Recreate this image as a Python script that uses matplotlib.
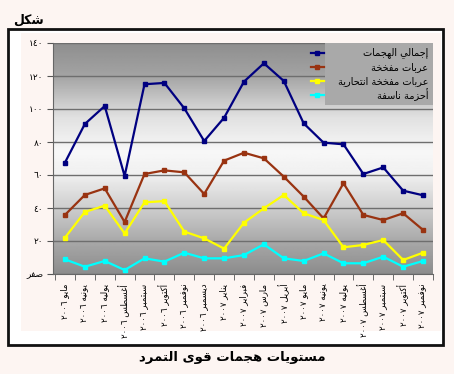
import re
import numpy as np
import matplotlib
import matplotlib.pyplot as plt
from matplotlib.patches import Rectangle
from matplotlib.lines import Line2D

matplotlib.use("Agg")

# Data (May 2006 - Nov 2007)
months = ['مايو', 'يونيه', 'يوليه', 'أغسطس', 'سبتمبر', 'أكتوبر', 'نوفمبر', 'ديسمبر',
          'يناير', 'فبراير', 'مارس', 'أبريل', 'مايو', 'يونيه', 'يوليه', 'أغسطس',
          'سبتمبر', 'أكتوبر', 'نوفمبر']
years = ['٢٠٠٦'] * 8 + ['٢٠٠٧'] * 11

total_attacks = [67.5, 90.9, 101.8, 59.4, 115, 115.8, 100.4, 80.6, 94.7, 116.6,
                 127.7, 117, 91.3, 79.6, 78.6, 60.6, 64.6, 50.5, 47.7]
car_bombs = [35.8, 47.9, 51.9, 31.5, 60.6, 62.8, 61.6, 48.5, 68.7, 73.5,
             70.1, 59, 46.9, 33.7, 55, 35.8, 32.7, 36.8, 26.7]
suicide_car_bombs = [22, 37.6, 41.4, 24.6, 43.4, 44.2, 25.7, 21.6, 15.4, 31.1,
                     39.8, 47.9, 36.8, 32.7, 16.2, 17.6, 20.6, 8.5, 12.9]
suicide_vests = [8.9, 4.4, 7.9, 2.4, 9.5, 7.5, 12.9, 9.5, 9.5, 11.5,
                 18, 9.5, 7.9, 12.5, 6.5, 6.5, 10.5, 4.4, 7.9]

series_names = ['إجمالي الهجمات', 'عربات مفخخة', 'عربات مفخخة انتحارية', 'أحزمة ناسفة']
series_colors = ['#000080', '#993311', '#FFFF00', '#00FFFF']

y_ticks = [0, 20, 40, 60, 80, 100, 120, 140]
y_tick_labels = ['صفر', '٢٠', '٤٠', '٦٠', '٨٠', '١٠٠', '١٢٠', '١٤٠']

# matplotlib has no Arabic shaping: map letters to presentation forms
# and put them in visual (right-to-left) order by hand.
ARABIC_START = dict(zip(
    'آأؤإئابةتثجحخدذرزسشصضطظعغفقكلمنهوىي',
    [0xFE81, 0xFE83, 0xFE85, 0xFE87, 0xFE89, 0xFE8D, 0xFE8F, 0xFE93, 0xFE95,
     0xFE99, 0xFE9D, 0xFEA1, 0xFEA5, 0xFEA9, 0xFEAB, 0xFEAD, 0xFEAF, 0xFEB1,
     0xFEB5, 0xFEB9, 0xFEBD, 0xFEC1, 0xFEC5, 0xFEC9, 0xFECD, 0xFED1, 0xFED5,
     0xFED9, 0xFEDD, 0xFEE1, 0xFEE5, 0xFEE9, 0xFEED, 0xFEEF, 0xFEF1]))
RIGHT_ONLY = set('آأؤإاةدذرزوى')


def shape(text):
    out = []
    for i, ch in enumerate(text):
        if ch not in ARABIC_START:
            out.append(ch)
            continue
        prev = text[i - 1] if i > 0 else ''
        nxt = text[i + 1] if i + 1 < len(text) else ''
        joins_prev = prev in ARABIC_START and prev not in RIGHT_ONLY
        joins_next = nxt in ARABIC_START and ch not in RIGHT_ONLY
        base = ARABIC_START[ch]
        if joins_prev and joins_next:
            out.append(chr(base + 3))
        elif joins_next:
            out.append(chr(base + 2))
        elif joins_prev:
            out.append(chr(base + 1))
        else:
            out.append(chr(base))
    runs = re.findall(r'[0-9٠-٩]+|[^0-9٠-٩]', ''.join(out))
    return ''.join(reversed(runs))


plt.rcParams['font.family'] = ['DejaVu Sans']

W, H = 454, 374
fig = plt.figure(figsize=(W / 100, H / 100), dpi=100, facecolor='#FDF5F2')

# Outer frame and label area
fig.patches.append(Rectangle((8 / W, 1 - 345 / H), 435 / W, 316 / H, transform=fig.transFigure,
                             facecolor='white', edgecolor='#111111', linewidth=2.0, zorder=-3))
fig.patches.append(Rectangle((21 / W, 1 - 331 / H), 420 / W, 298 / H, transform=fig.transFigure,
                             facecolor='#FDF5F2', edgecolor='none', zorder=-2))

ax = fig.add_axes([53 / W, 1 - 274 / H, 380 / W, 231 / H])
ax.patch.set_alpha(0)

# Vertical grey gradient background
pos = np.linspace(0, 1, 256)
shade = np.interp(pos, [0, 0.14, 0.29, 0.43, 0.53, 0.68, 0.86, 1.0],
                  [0.55, 0.66, 0.81, 0.94, 0.97, 0.88, 0.64, 0.56])
ax.imshow(shade[:, None], extent=[0, 1, 0, 1], transform=ax.transAxes, aspect='auto',
          cmap='gray', vmin=0, vmax=1, origin='lower', zorder=0)

x = np.arange(len(months))
all_series = [total_attacks, car_bombs, suicide_car_bombs, suicide_vests]
for values, color in zip(all_series, series_colors):
    ax.plot(x, values, color=color, linewidth=1.6, marker='s', markersize=2.2, zorder=3)

ax.set_xlim(-0.6, len(months) - 0.5)
ax.set_ylim(0, 140)
ax.set_yticks(y_ticks)
ax.set_yticklabels([shape(t) for t in y_tick_labels], fontsize=6.5)
ax.set_xticks(x)
ax.set_xticklabels([shape(m + ' ' + y) for m, y in zip(months, years)],
                   rotation=90, fontsize=6.2, va='top')
ax.set_xticks(np.arange(len(months) + 1) - 0.5, minor=True)
ax.tick_params(axis='x', which='major', length=0, pad=7)
ax.tick_params(axis='x', which='minor', length=4, color='#555555')
ax.tick_params(axis='y', length=4, pad=3, color='#555555')

ax.grid(axis='y', color='#6E6E6E', linewidth=1)
ax.set_axisbelow(True)
for side in ['top', 'right']:
    ax.spines[side].set_visible(False)
for side in ['left', 'bottom']:
    ax.spines[side].set_color('#666666')

# Legend drawn by hand so the Arabic text can be right-aligned
ax.add_patch(Rectangle((0.716, 0.732), 0.284, 0.268, transform=ax.transAxes,
                       facecolor='#A9A9A9', edgecolor='none', zorder=4))
entry_y = [0.957, 0.896, 0.835, 0.775]
for name, color, ey in zip(series_names, series_colors, entry_y):
    ax.add_line(Line2D([0.679, 0.713], [ey, ey], transform=ax.transAxes, color=color,
                       linewidth=1.6, zorder=5))
    ax.add_line(Line2D([0.696], [ey], transform=ax.transAxes, color=color, marker='s',
                       markersize=2.2, zorder=5))
    ax.text(0.988, ey, shape(name), transform=ax.transAxes, ha='right', va='center',
            fontsize=7, zorder=6)

fig.text(13 / W, 1 - 20 / H, shape('شكل'), ha='left', va='center', fontsize=9, fontweight='bold')
fig.text(232 / W, 1 - 357 / H, shape('مستويات هجمات قوى التمرد'), ha='center', va='center',
         fontsize=9.5, fontweight='bold')

fig.savefig('out.png', dpi=100, facecolor=fig.get_facecolor())
plt.close(fig)
